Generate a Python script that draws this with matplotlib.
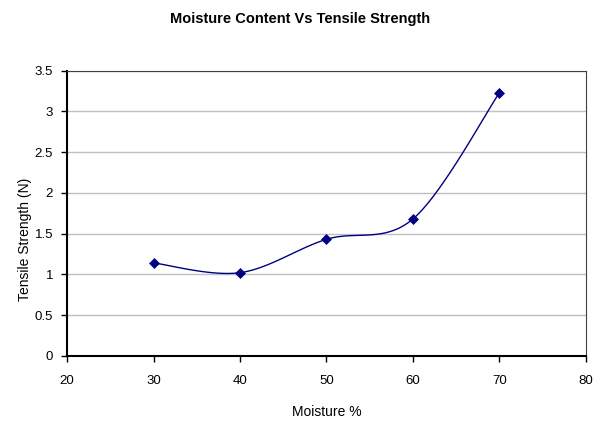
import numpy as np
import matplotlib.pyplot as plt

moisture = [30, 40, 50, 60, 70]
strength = [1.14, 1.02, 1.43, 1.68, 3.23]


# excel style smoothed line: cubic bezier through points
def smooth(x, y, n=30):
    x = np.asarray(x, float)
    y = np.asarray(y, float)
    px = np.concatenate(([x[0]], x, [x[-1]]))
    py = np.concatenate(([y[0]], y, [y[-1]]))
    xs, ys = [], []
    for i in range(len(x) - 1):
        p0 = np.array([px[i], py[i]])
        p1 = np.array([px[i + 1], py[i + 1]])
        p2 = np.array([px[i + 2], py[i + 2]])
        p3 = np.array([px[i + 3], py[i + 3]])
        c1 = p1 + (p2 - p0) / 6.0
        c2 = p2 - (p3 - p1) / 6.0
        t = np.linspace(0, 1, n)[:, None]
        b = ((1 - t) ** 3) * p1 + 3 * ((1 - t) ** 2) * t * c1 + 3 * (1 - t) * t ** 2 * c2 + t ** 3 * p2
        xs.extend(b[:, 0])
        ys.extend(b[:, 1])
    return xs, ys


plt.rcParams['font.family'] = ['Liberation Sans', 'DejaVu Sans']

fig = plt.figure(figsize=(6.01, 4.21), dpi=100)
ax = fig.add_axes([0.1115, 0.155, 0.8635, 0.677])

sx, sy = smooth(moisture, strength)
ax.plot(sx, sy, color='#000080', lw=1.0, zorder=3)
ax.plot(moisture, strength, ls='none', marker='D', ms=5.5, mew=0.5, color='#000080', zorder=4)

ax.set_xlim(20, 80)
ax.set_ylim(0, 3.5)
ax.set_xticks(np.arange(20, 81, 10))
ax.set_yticks(np.arange(0, 3.51, 0.5))
ax.set_yticklabels(['0', '0.5', '1', '1.5', '2', '2.5', '3', '3.5'])
ax.yaxis.grid(True, color='#c0c0c0', lw=1.0)
ax.set_axisbelow(True)

for s in ['left', 'bottom']:
    ax.spines[s].set_color('black')
    ax.spines[s].set_linewidth(1.5)
for s in ['top', 'right']:
    ax.spines[s].set_color('#404040')
    ax.spines[s].set_linewidth(0.8)

ax.tick_params(axis='both', labelsize=9.5, length=4, width=1, direction='out', colors='black')
ax.tick_params(axis='x', pad=10)
ax.tick_params(axis='y', pad=6)

ax.set_xlabel('Moisture %', fontsize=10, labelpad=13)
ax.set_ylabel('Tensile Strength (N)', fontsize=10)
ax.yaxis.set_label_coords(-0.067, 0.41)

fig.text(0.5, 0.955, 'Moisture Content Vs Tensile Strength', ha='center', va='center',
         fontsize=10.5, fontweight='bold')

fig.savefig('out.png', dpi=100)
